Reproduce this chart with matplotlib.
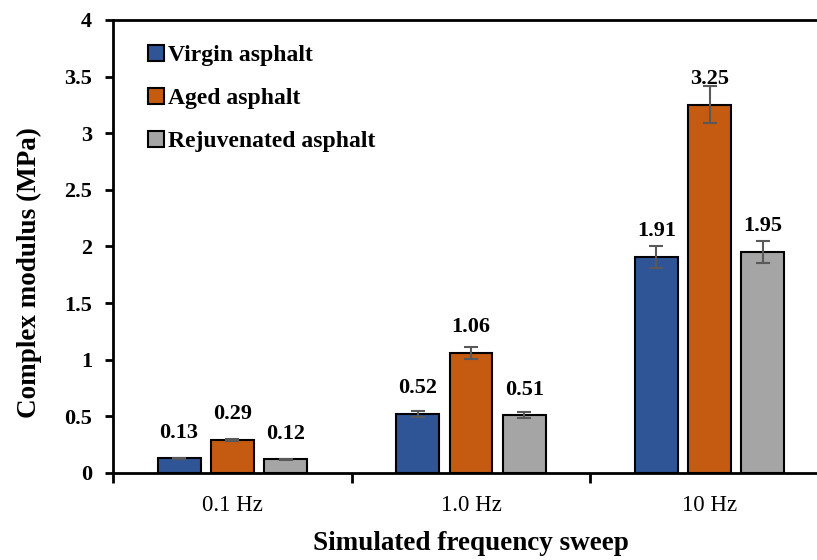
import numpy as np
import matplotlib.pyplot as plt

# data
freqs = ['0.1 Hz', '1.0 Hz', '10 Hz']
series = ['Virgin asphalt', 'Aged asphalt', 'Rejuvenated asphalt']
virgin = [0.13, 0.52, 1.91]
aged = [0.29, 1.06, 3.25]
rejuv = [0.12, 0.51, 1.95]
virgin_err = [0.005, 0.026, 0.097]
aged_err = [0.012, 0.053, 0.163]
rejuv_err = [0.005, 0.028, 0.097]

colors = ['#2F5597', '#C55A11', '#A5A5A5']
font = ['Liberation Serif', 'DejaVu Serif']

plt.rcParams['font.family'] = font

fig = plt.figure(figsize=(8.17, 5.6), dpi=100)
ax = fig.add_axes([0.1383, 0.1554, 0.8764, 0.8089])

x = np.arange(len(freqs)) + 0.5
w = 0.18
step = 0.223
vals = [virgin, aged, rejuv]
errs = [virgin_err, aged_err, rejuv_err]
for i in range(3):
    pos = x + (i - 1) * step
    ax.bar(pos, vals[i], w, color=colors[i], edgecolor='black', linewidth=1.5,
           label=series[i], zorder=2)
    ax.errorbar(pos, vals[i], yerr=errs[i], fmt='none', ecolor='#595959',
                elinewidth=1.5, capsize=5, capthick=1.5, zorder=3)
    for p, v in zip(pos, vals[i]):
        ax.annotate('%.2f' % v, (p, v), xytext=(0, 18.5), textcoords='offset points',
                    ha='center', va='center', fontsize=16, fontweight='bold')

ax.set_xlim(0, 3)
ax.set_ylim(0, 4)
ax.set_yticks(np.arange(0, 4.01, 0.5))
ax.set_yticklabels(['0', '0.5', '1', '1.5', '2', '2.5', '3', '3.5', '4'],
                   fontsize=16, fontweight='bold')
ax.set_xticks(x)
ax.set_xticklabels(freqs, fontsize=16.5)
ax.set_xticks([0, 1, 2, 3], minor=True)
ax.tick_params(axis='x', which='major', length=0, pad=16)
ax.tick_params(axis='x', which='minor', length=7, width=2, direction='out')
ax.tick_params(axis='y', length=6, width=2, pad=9)

for s in ['left', 'bottom', 'top']:
    ax.spines[s].set_linewidth(2)
ax.spines['right'].set_visible(False)

ax.set_ylabel('Complex modulus (MPa)', fontsize=19.5, fontweight='bold')
ax.yaxis.set_label_coords(-0.099, 0.4415)
ax.set_xlabel('Simulated frequency sweep', fontsize=19.5, fontweight='bold', labelpad=11)

leg = ax.legend(loc='upper left', bbox_to_anchor=(0.036, 0.965), frameon=False,
                prop={'family': font, 'weight': 'bold', 'size': 17},
                handlelength=0.65, handleheight=0.65, handletextpad=0.2,
                labelspacing=0.92, borderaxespad=0)

fig.savefig('out.png', dpi=100)
